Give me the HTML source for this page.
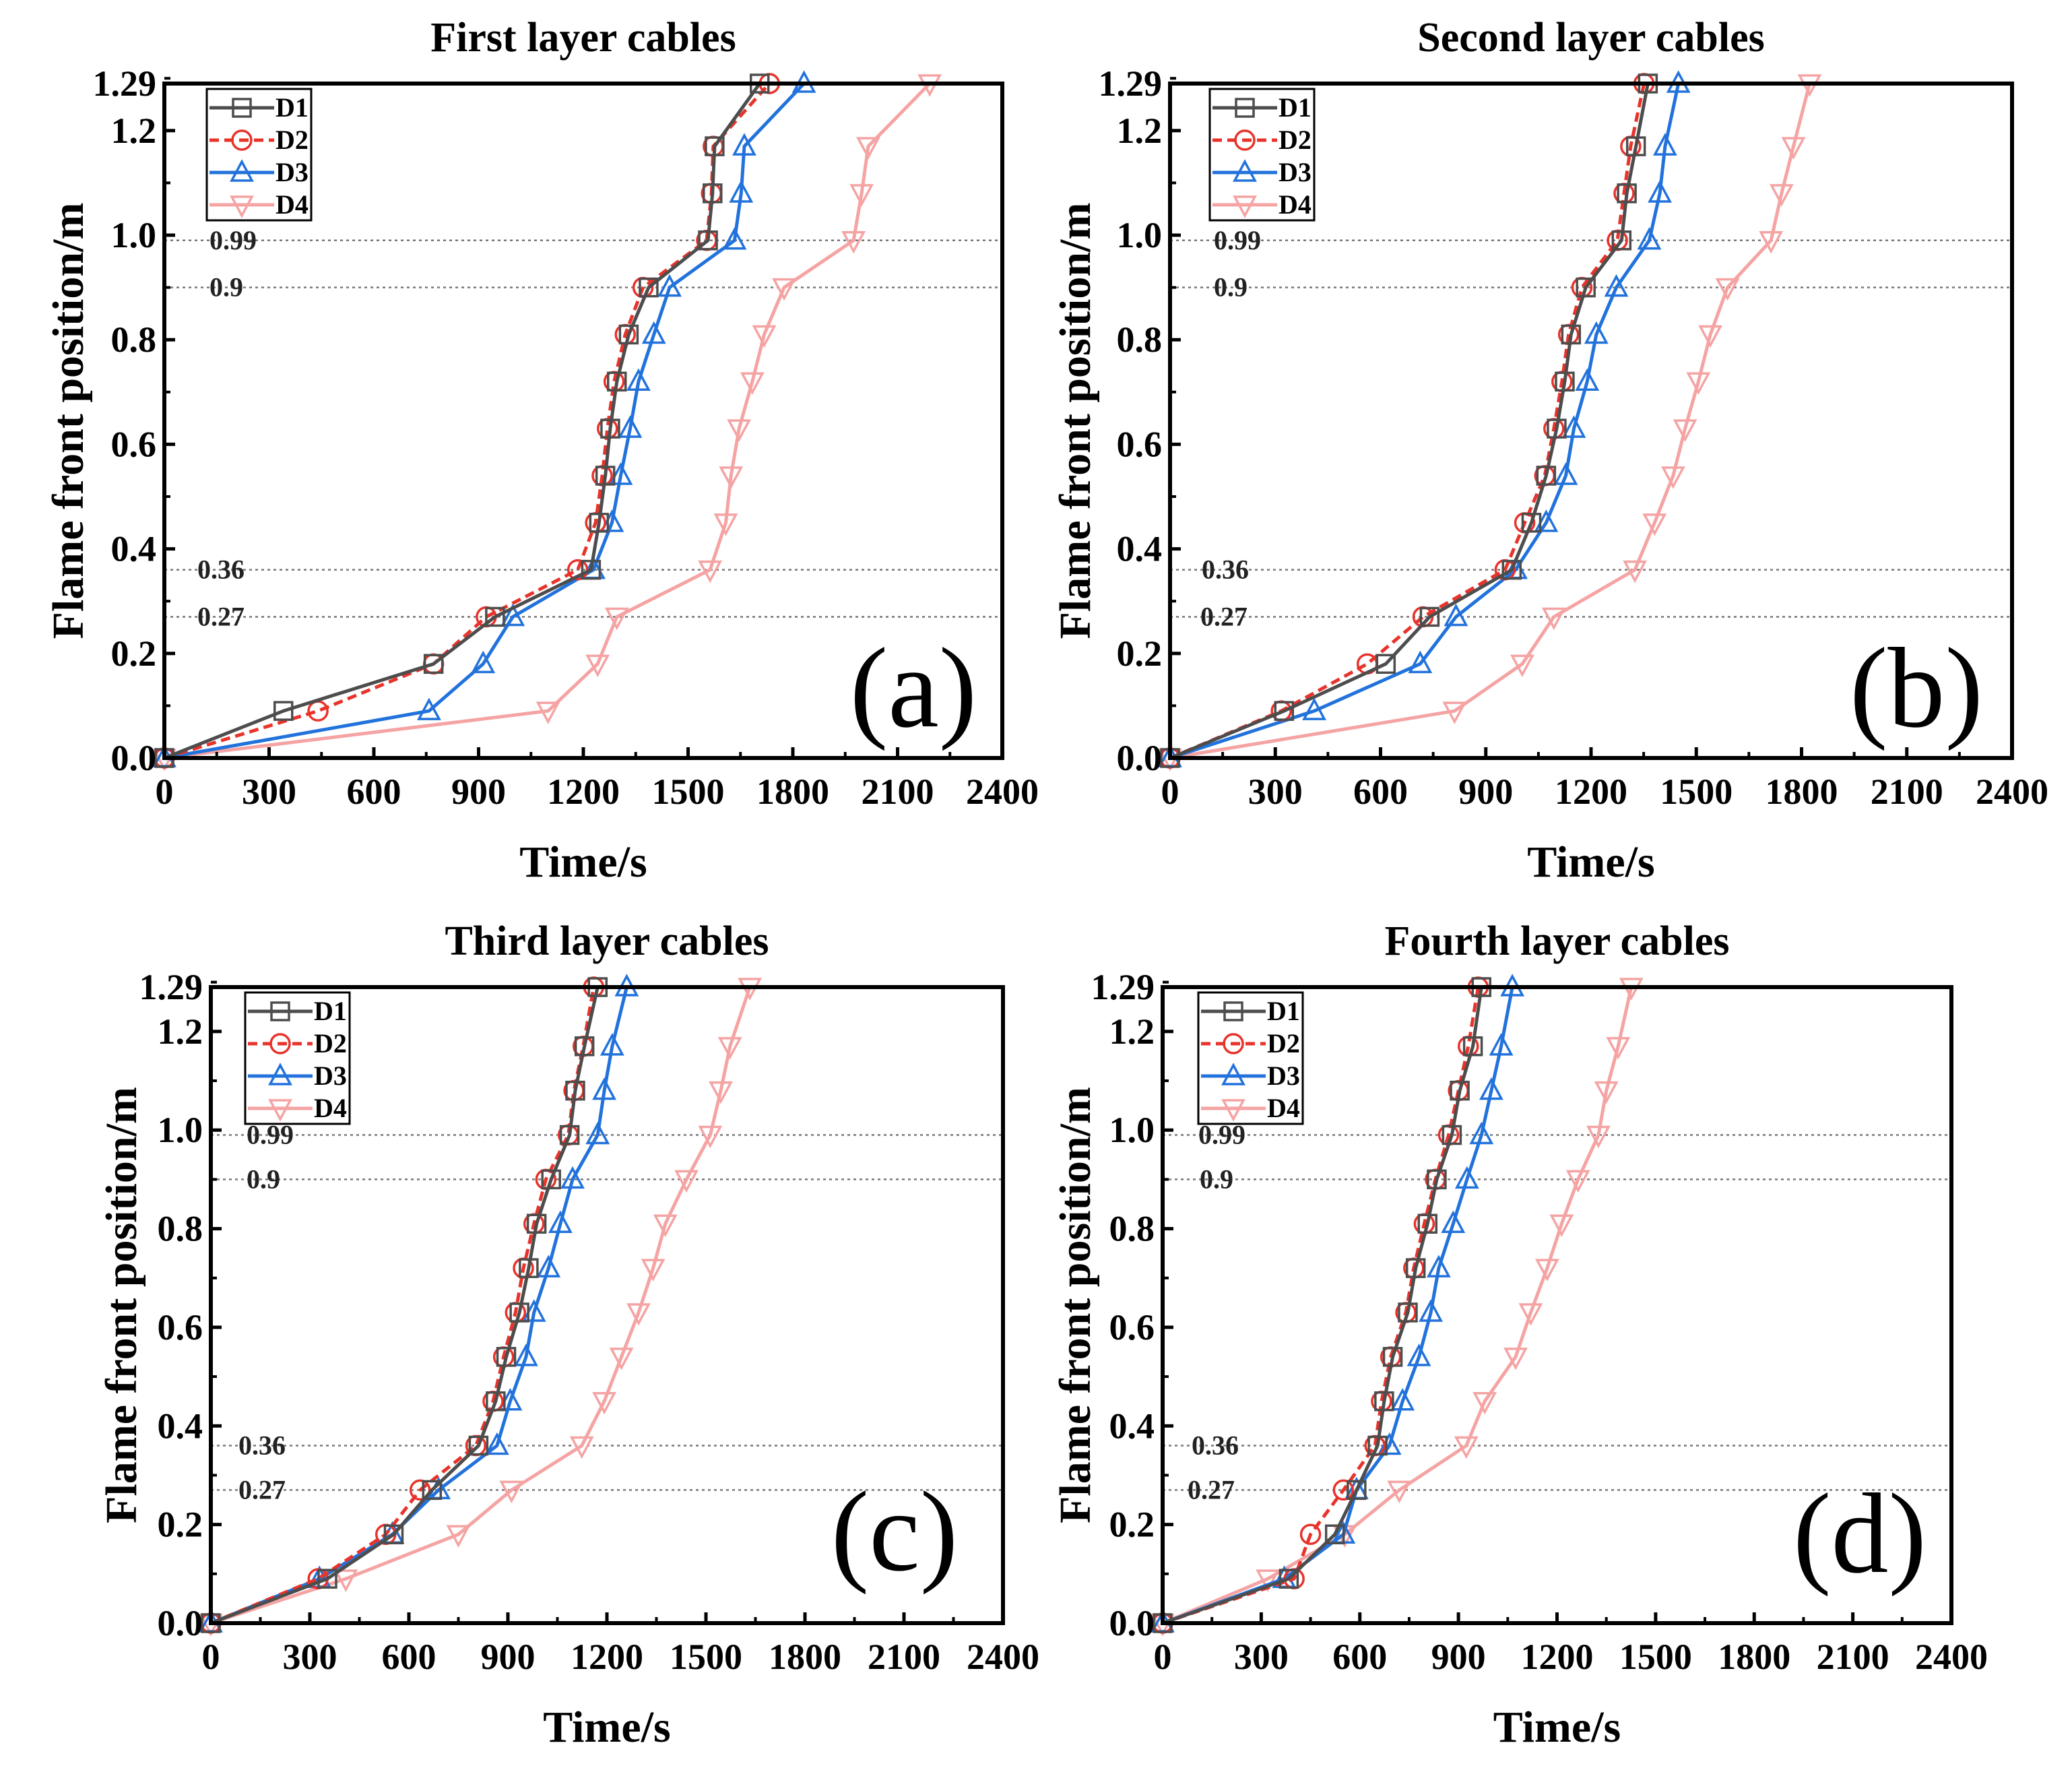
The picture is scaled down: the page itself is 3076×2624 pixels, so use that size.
<!DOCTYPE html>
<html><head><meta charset="utf-8"><style>
html,body{margin:0;padding:0;background:#fff;}
svg{display:block;}
text{font-family:"Liberation Serif",serif;}
</style></head><body>
<svg id="fig" width="3076" height="2624" viewBox="0 0 3076 2624" xmlns="http://www.w3.org/2000/svg"></svg>
<script>
// Shared y levels (flame front position, m)
const yLevels = [0,0.09,0.18,0.27,0.36,0.45,0.54,0.63,0.72,0.81,0.9,0.99,1.08,1.17,1.29];
const seriesNames = ["D1","D2","D3","D4"];
const xTicks = [0,300,600,900,1200,1500,1800,2100,2400];
const yTicks = [0,0.2,0.4,0.6,0.8,1.0,1.2];
const yTickLabels = ["0.0","0.2","0.4","0.6","0.8","1.0","1.2"];
const refLines = [0.27,0.36,0.9,0.99];
const refLabels = ["0.27","0.36","0.9","0.99"];
// Panel (a) times
const aD1 = [0,341,771,947,1222,1245,1263,1277,1296,1330,1387,1557,1570,1576,1705];
const aD2 = [0,440,771,922,1184,1235,1254,1269,1288,1320,1371,1553,1567,1572,1733];
const aD3 = [0,758,913,998,1229,1282,1307,1334,1358,1402,1447,1633,1652,1661,1832];
const aD4 = [0,1099,1241,1296,1563,1608,1623,1646,1684,1718,1775,1974,1997,2016,2192];
// Panel (b)
const bD1 = [0,325,615,740,974,1030,1072,1102,1125,1143,1185,1287,1302,1328,1362];
const bD2 = [0,317,562,721,955,1011,1068,1094,1117,1136,1174,1275,1294,1313,1351];
const bD3 = [0,411,713,815,985,1072,1128,1151,1189,1215,1272,1366,1396,1411,1449];
const bD4 = [0,811,1004,1094,1325,1381,1434,1468,1506,1540,1589,1713,1743,1777,1823];
// Panel (c)
const cD1 = [0,353,554,670,811,863,895,935,963,987,1031,1087,1104,1132,1172];
const cD2 = [0,325,530,634,803,855,887,923,947,979,1015,1083,1100,1128,1160];
const cD3 = [0,329,550,690,867,907,955,979,1023,1059,1096,1172,1192,1216,1260];
const cD4 = [0,409,750,911,1124,1192,1244,1296,1340,1377,1441,1513,1545,1573,1633];
// Panel (d)
const dD1 = [0,384,524,590,654,674,700,746,770,806,834,880,904,944,970];
const dD2 = [0,400,450,550,646,666,694,740,764,796,830,870,900,930,960];
const dD3 = [0,370,550,590,690,730,780,816,840,884,926,970,1000,1030,1064];
const dD4 = [0,320,554,720,924,980,1074,1120,1170,1214,1264,1326,1350,1386,1426];

const NS="http://www.w3.org/2000/svg";
const svg=document.getElementById('fig');
function mk(tag,attrs,parent){const e=document.createElementNS(NS,tag);for(const k in attrs)e.setAttribute(k,attrs[k]);(parent||svg).appendChild(e);return e;}

const styles=[
 {color:"#4d4d4d",dash:"",marker:"square"},
 {color:"#e8332b",dash:"14 8",marker:"circle"},
 {color:"#2272dc",dash:"",marker:"up"},
 {color:"#f5a3a3",dash:"",marker:"down"}
];
function marker(g,type,x,y,color){
  const s=13;let m;
  if(type==="square") m=mk('rect',{x:x-s,y:y-s,width:2*s,height:2*s,fill:"none",stroke:color,"stroke-width":3.5},g);
  else if(type==="circle") m=mk('circle',{cx:x,cy:y,r:s+1,fill:"none",stroke:color,"stroke-width":3.5},g);
  else if(type==="up") m=mk('polygon',{points:`${x},${y-s-3} ${x-s-2},${y+s-1} ${x+s+2},${y+s-1}`,fill:"none",stroke:color,"stroke-width":3.5},g);
  else m=mk('polygon',{points:`${x},${y+s+3} ${x-s-2},${y-s+1} ${x+s+2},${y-s+1}`,fill:"none",stroke:color,"stroke-width":3.5},g);
  return m;
}

const panels=[
 {id:"a",L:244,T:124,R:1488,B:1125,title:"First layer cables",data:[aD1,aD2,aD3,aD4],lab:[1356,1018],leg:63,refX:[49,49,67,67],ytx:108},
 {id:"b",L:1737,T:124,R:2987,B:1125,title:"Second  layer cables",data:[bD1,bD2,bD3,bD4],lab:[2845,1018],leg:59,refX:[45,47,65,65],ytx:1603},
 {id:"c",L:313,T:1465,R:1489,B:2409,title:"Third layer cables",data:[cD1,cD2,cD3,cD4],lab:[1328,2270],leg:51,refX:[41,41,53,53],ytx:187},
 {id:"d",L:1726,T:1465,R:2897,B:2409,title:"Fourth layer cables",data:[dD1,dD2,dD3,dD4],lab:[2761,2273],leg:53,refX:[37,43,55,53],ytx:1603}
];

panels.forEach(p=>{
  const g=mk('g',{});
  
  
  const xs=v=>p.L+(v/2400)*(p.R-p.L);
  const ys=v=>p.B-(v/1.29)*(p.B-p.T);
  const cx=(p.L+p.R)/2, cy=(p.T+p.B)/2;
  const t=mk('text',{x:cx,y:p.T-48,"text-anchor":"middle","font-size":62,"font-weight":"bold"},g);
  t.textContent=p.title;
  
  
  refLines.forEach((r,i)=>{
    const ln=mk('line',{x1:p.L,x2:p.R,y1:ys(r),y2:ys(r),stroke:"#777","stroke-width":2.5,"stroke-dasharray":"4 5"},g);
    
    
    const tl=mk('text',{x:p.L+p.refX[i],y:ys(r)+13,"font-size":40,"font-weight":"bold",fill:"#222"},g);
    tl.textContent=refLabels[i];
    
    
  });
  for(let s=3;s>=0;s--){
    const st=styles[s];const arr=p.data[s];
    const pts=arr.map((v,i)=>xs(v)+","+ys(yLevels[i])).join(" ");
    const pl=mk('polyline',{points:pts,fill:"none",stroke:st.color,"stroke-width":5,"stroke-dasharray":st.dash,"stroke-linejoin":"round"},g);
    
    
    arr.forEach((v,i)=>{
      const m=marker(g,st.marker,xs(v),ys(yLevels[i]),st.color);
      
      
    });
  }
  const fr=mk('rect',{x:p.L,y:p.T,width:p.R-p.L,height:p.B-p.T,fill:"none",stroke:"#000","stroke-width":6},g);
  
  
  xTicks.forEach(v=>{
    mk('line',{x1:xs(v),x2:xs(v),y1:p.B,y2:p.B-16,stroke:"#000","stroke-width":5},g);
    if(v<2400) mk('line',{x1:xs(v+150),x2:xs(v+150),y1:p.B,y2:p.B-9,stroke:"#000","stroke-width":4},g);
    const tl=mk('text',{x:xs(v),y:p.B+68,"text-anchor":"middle","font-size":54,"font-weight":"bold"},g);
    tl.textContent=String(v);
    
    
  });
  yTicks.forEach((v,i)=>{
    mk('line',{x1:p.L,x2:p.L+16,y1:ys(v),y2:ys(v),stroke:"#000","stroke-width":5},g);
    mk('line',{x1:p.L,x2:p.L+9,y1:ys(v+0.1),y2:ys(v+0.1),stroke:"#000","stroke-width":4},g);
    const tl=mk('text',{x:p.L-12,y:ys(v)+18,"text-anchor":"end","font-size":54,"font-weight":"bold"},g);
    tl.textContent=yTickLabels[i];
    
    
  });
  const tt=mk('text',{x:p.L-12,y:p.T+18,"text-anchor":"end","font-size":54,"font-weight":"bold"},g);
  tt.textContent="1.29";
  
  
  const xt=mk('text',{x:cx,y:p.B+176,"text-anchor":"middle","font-size":66,"font-weight":"bold"},g);
  xt.textContent="Time/s";
  
  
  const yx=p.ytx;
  const yt=mk('text',{x:yx,y:cy,"text-anchor":"middle","font-size":66,"font-weight":"bold",transform:`rotate(-90 ${yx} ${cy})`,"dominant-baseline":"middle"},g);
  yt.textContent="Flame front position/m";
  
  
  const pl=mk('text',{x:p.lab[0],y:p.lab[1]+60,"text-anchor":"middle","font-size":170},g);
  pl.textContent="("+p.id+")";
  
  
  const lg=mk('g',{},g);
  
  
  const lx=p.L+p.leg, ly=p.T+8, lw=155, lh=195;
  mk('rect',{x:lx,y:ly,width:lw,height:lh,fill:"#fff",stroke:"#000","stroke-width":3},lg);
  for(let s=0;s<4;s++){
    const st=styles[s];const yy=ly+28+s*48;
    const e=mk('g',{},lg);
    
    
    mk('line',{x1:lx+4,x2:lx+100,y1:yy,y2:yy,stroke:st.color,"stroke-width":5,"stroke-dasharray":st.dash},e);
    marker(e,st.marker,lx+52,yy,st.color);
    const tx=mk('text',{x:lx+102,y:yy+13,"font-size":40,"font-weight":"bold"},e);
    tx.textContent=seriesNames[s];
  }
});
</script>
</body></html>
